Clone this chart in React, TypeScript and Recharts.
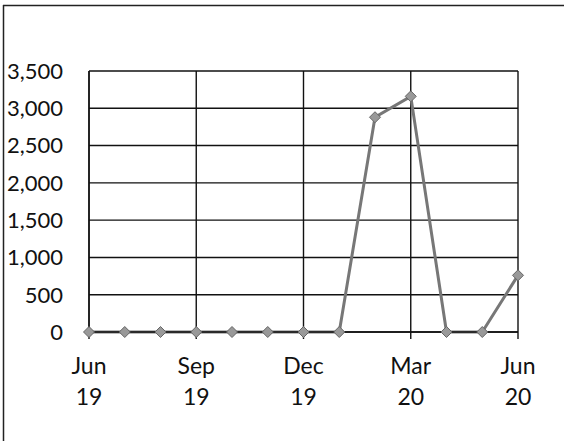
import React from "react";
import { LineChart, Line, XAxis, YAxis, CartesianGrid } from "recharts";

// Monthly series, Jun 2019 – Jun 2020
const months = ["Jun", "Jul", "Aug", "Sep", "Oct", "Nov", "Dec", "Jan", "Feb", "Mar", "Apr", "May", "Jun"];
const years = ["19", "19", "19", "19", "19", "19", "19", "20", "20", "20", "20", "20", "20"];
const values = [0, 0, 0, 0, 0, 0, 0, 0, 2880, 3160, 0, 0, 760];
const xTicks = [0, 3, 6, 9, 12];
const yTicks = [0, 500, 1000, 1500, 2000, 2500, 3000, 3500];

const data = values.map((v, i) => ({ idx: i, value: v }));

const FONT = "Lato, 'Liberation Sans', sans-serif";

const fmt = (v: number) => v.toLocaleString("en-US");

const MonthTick = (props: any) => {
  const { x, y, payload } = props;
  const i = payload.value as number;
  return (
    <text x={x} textAnchor="middle" fontFamily={FONT} fontSize={23} fill="#111">
      <tspan x={x} y={y + 33}>{months[i]}</tspan>
      <tspan x={x} y={y + 64}>{years[i]}</tspan>
    </text>
  );
};

const Diamond = (props: any) => {
  const { cx, cy, index } = props;
  if (cx == null || cy == null) return null;
  const r = 5.5;
  return (
    <polygon
      key={`d-${index}`}
      points={`${cx},${cy - r} ${cx + r},${cy} ${cx},${cy + r} ${cx - r},${cy}`}
      fill="#999"
      stroke="#666"
      strokeWidth={1}
    />
  );
};

export default function App() {
  return (
    <div style={{ position: "absolute", left: 0, top: 0, width: 564, height: 441, background: "#fff" }}>
      <svg width={564} height={441} style={{ position: "absolute", left: 0, top: 0 }}>
        <line x1={3.5} y1={5} x2={3.5} y2={441} stroke="#222" strokeWidth={1.5} />
        <line x1={3} y1={5.5} x2={564} y2={5.5} stroke="#222" strokeWidth={1.5} />
      </svg>
      <div style={{ position: "absolute", left: 0, top: 0 }}>
        <LineChart
          width={564}
          height={441}
          data={data}
          margin={{ top: 71, right: 46, bottom: 48, left: 0 }}
        >
          <CartesianGrid stroke="#111" strokeWidth={1.4} />
          <XAxis
            dataKey="idx"
            type="number"
            domain={[0, 12]}
            ticks={xTicks}
            height={61}
            axisLine={{ stroke: "#111", strokeWidth: 1.4 }}
            tickLine={{ stroke: "#111", strokeWidth: 1.4 }}
            tickSize={7}
            tick={<MonthTick />}
            interval={0}
          />
          <YAxis
            domain={[0, 3500]}
            ticks={yTicks}
            width={89}
            axisLine={{ stroke: "#111", strokeWidth: 1.4 }}
            tickLine={false}
            tickSize={0}
            tickMargin={26}
            tickFormatter={fmt}
            tick={{ fontFamily: FONT, fontSize: 22, fill: "#111" }}
            interval={0}
          />
          <Line
            type="linear"
            dataKey="value"
            stroke="#777"
            strokeWidth={3}
            dot={<Diamond />}
            activeDot={false}
            isAnimationActive={false}
          />
        </LineChart>
      </div>
    </div>
  );
}
